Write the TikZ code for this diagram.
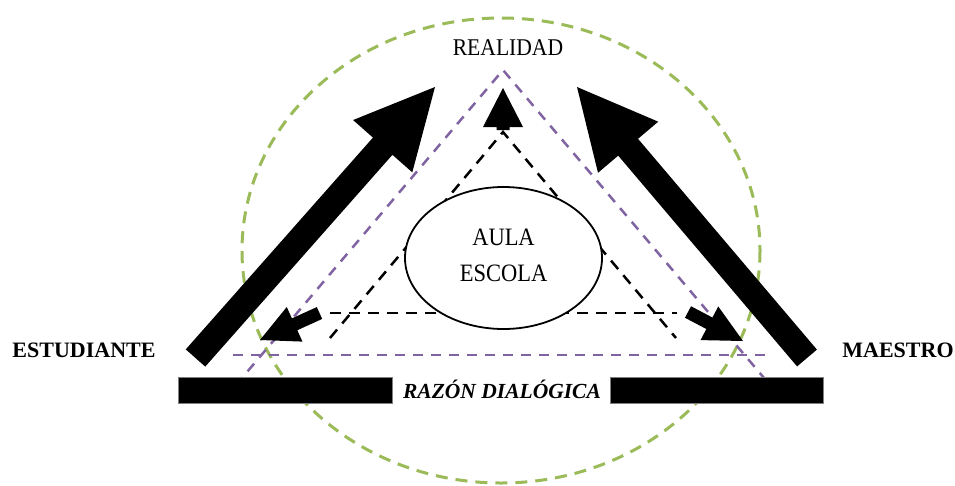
\documentclass[tikz,border=0pt]{standalone}
\usepackage{fontspec}
\setmainfont{Liberation Serif}
\newfontfamily\tallserif{Liberation Serif}[FakeStretch=0.9]
\usetikzlibrary{calc,shapes.geometric}
\definecolor{olgreen}{HTML}{9BBB59}
\definecolor{olpurple}{HTML}{8064A2}
% #1 tail, #2 tip, #3 shaft half width, #4 head half width, #5 head length
\newcommand\fatarrow[5]{%
  \coordinate (fa-h) at ($(#2)!#5!(#1)$);
  \fill[black] ($(#1)!#3!90:(#2)$) -- ($(fa-h)!#3!90:(#2)$) -- ($(fa-h)!#4!90:(#2)$)
    -- (#2) -- ($(fa-h)!#4!-90:(#2)$) -- ($(fa-h)!#3!-90:(#2)$) -- ($(#1)!#3!-90:(#2)$) -- cycle;
}
\tikzset{
  greendash/.style={draw=olgreen, line width=3pt, dash pattern=on 12pt off 8pt},
  purpledash/.style={draw=olpurple, line width=2.5pt, dash pattern=on 10pt off 8pt},
  blackdash/.style={draw=black, line width=2.5pt, dash pattern=on 11pt off 8pt},
  bar/.style={fill=black, draw=gray, line width=0.8pt, minimum height=26pt, inner sep=0pt},
  lbl/.style={font=\tallserif\fontsize{24}{28}\selectfont, inner sep=0pt, anchor=base},
  blbl/.style={font=\fontsize{22}{26}\selectfont\bfseries, inner sep=0pt, anchor=base},
}
\begin{document}
\begin{tikzpicture}[x=1pt,y=-1pt]
\useasboundingbox (0,0) rectangle (955,485);
% outer green ellipse
\coordinate (ctr) at (501,250.5);
\draw[greendash] (ctr) ellipse [x radius=259, y radius=232.5];
% purple triangle
\coordinate (pA) at (503,70);
\coordinate (pL) at (236,385);
\coordinate (pR) at (770,385);
\coordinate (phL) at (233,355);
\coordinate (phR) at (768,355);
\draw[purpledash] (pL) -- (pA) -- (pR);
\draw[purpledash] (phL) -- (phR);
% black dashed triangle
\coordinate (bA) at (503,132);
\coordinate (bL) at (330,338);
\coordinate (bR) at (676,338);
\coordinate (bhL) at (330,313);
\coordinate (bhR) at (677,313);
\draw[blackdash] (bL) -- (bA) -- (bR);
\draw[blackdash] (bhL) -- (bhR);
% central ellipse
\node (aula) [ellipse, draw, fill=white, line width=1.8pt, minimum width=197pt, minimum height=142pt, inner sep=0pt] at (503.5,258) {};
\node (aulaT) [lbl, font=\tallserif\fontsize{25}{28}\selectfont] at (503.5,245) {AULA};
\node (escolaT) [lbl, font=\tallserif\fontsize{25}{28}\selectfont] at (503.5,281) {ESCOLA};
% big arrows
\coordinate (ltail) at (195.5,358);
\coordinate (ltip) at (435,87);
\fatarrow{ltail}{ltip}{13pt}{39.5pt}{79pt}
\coordinate (rtail) at (807,358);
\coordinate (rtip) at (577,87);
\fatarrow{rtail}{rtip}{13pt}{39.5pt}{79pt}
% small arrows
\coordinate (sltail) at (319.5,313);
\coordinate (sltip) at (260,340);
\fatarrow{sltail}{sltip}{6.5pt}{19pt}{38pt}
\coordinate (srtail) at (688,312);
\coordinate (srtip) at (743,341);
\fatarrow{srtail}{srtip}{6.5pt}{19pt}{38pt}
\coordinate (sttail) at (503,130);
\coordinate (sttip) at (503,88);
\fatarrow{sttail}{sttip}{6.5pt}{20pt}{39pt}
% bars
\node (barL) [bar, minimum width=214pt] at (285,390) {};
\node (barR) [bar, minimum width=213pt] at (716.5,390) {};
% labels
\node (realidad) [lbl] at (508,55) {REALIDAD};
\node (estud) [blbl] at (84,357) {ESTUDIANTE};
\node (maestro) [blbl] at (898,357) {MAESTRO};
\node (razon) [blbl, font=\fontsize{21.5}{26}\selectfont\bfseries\itshape] at (502,398) {RAZÓN DIALÓGICA};
\end{tikzpicture}
\end{document}
